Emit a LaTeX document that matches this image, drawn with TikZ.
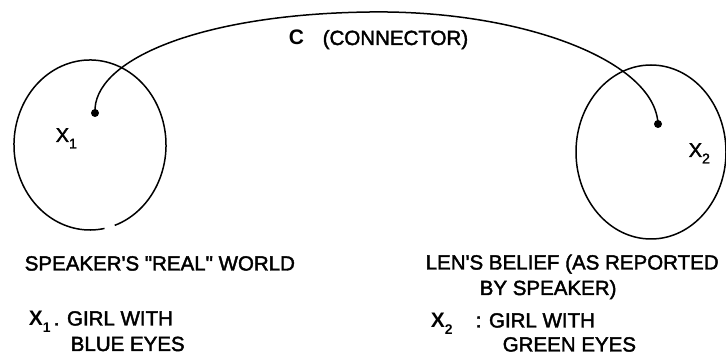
\documentclass[tikz,border=0pt]{standalone}
\usepackage{fontspec}
\setmainfont{Liberation Sans}[Ligatures=TeXOff]
\newfontfamily\medfont{Liberation Sans}[Ligatures=TeXOff, FakeBold=2]
\newcommand{\xsubx}[2]{#1\raisebox{-0.32em}{\fontsize{14}{14}\selectfont #2}}
\begin{document}
\begin{tikzpicture}[x=1pt,y=1pt,line width=1.5pt]
\useasboundingbox (0,0) rectangle (726,356);
\tikzset{
  lbl/.style={font=\medfont\fontsize{20.5}{24}\selectfont, inner sep=0pt, anchor=base west},
  xin/.style={font=\medfont\fontsize{20}{22}\selectfont, inner sep=0pt, anchor=base west},
  xkey/.style={font=\fontsize{21}{24}\bfseries\selectfont, inner sep=0pt, anchor=base west},
}
% worlds
\draw (90,211) ++(289:76 and 85) arc[start angle=289, end angle=641, x radius=76, y radius=85];
\draw (651,204) ellipse [x radius=75, y radius=87];
% dots
\coordinate (d1) at (95,243);
\coordinate (d2) at (658,232);
\coordinate (top) at (370,344);
\fill (d1) circle (4);
\fill (d2) circle (4);
% connector
\draw (d1) .. controls (92,296) and (200,342) .. (top)
      .. controls (520,346) and (655,296) .. (d2);
% labels in circles
\node[xin] (x1) at (55,214) {\xsubx{X}{1}};
\node[xin] (x2) at (688,199) {\xsubx{X}{2}};
% connector label
\node[font=\fontsize{21}{24}\bfseries\selectfont, inner sep=0pt, anchor=base west] (c) at (288,311) {C};
\node[lbl] (conn) at (322,311) {(CONNECTOR)};
% left texts
\node[lbl] (w1) at (24,85.5) {SPEAKER'S "REAL" WORLD};
\node[xkey] (k1) at (28,30.5) {\xsubx{X}{1}};
\node[lbl] (g1) at (53,30.5) {. GIRL WITH};
\node[lbl] (b1) at (70,5) {BLUE EYES};
% right texts
\node[lbl] (w2) at (425,86.5) {LEN'S BELIEF (AS REPORTED};
\node[lbl] (w2b) at (479,61) {BY SPEAKER)};
\node[xkey] (k2) at (430,28.5) {\xsubx{X}{2}};
\node[lbl] (g2) at (475,28.5) {: GIRL WITH};
\node[lbl] (b2) at (502,4.5) {GREEN EYES};
\end{tikzpicture}
\end{document}
